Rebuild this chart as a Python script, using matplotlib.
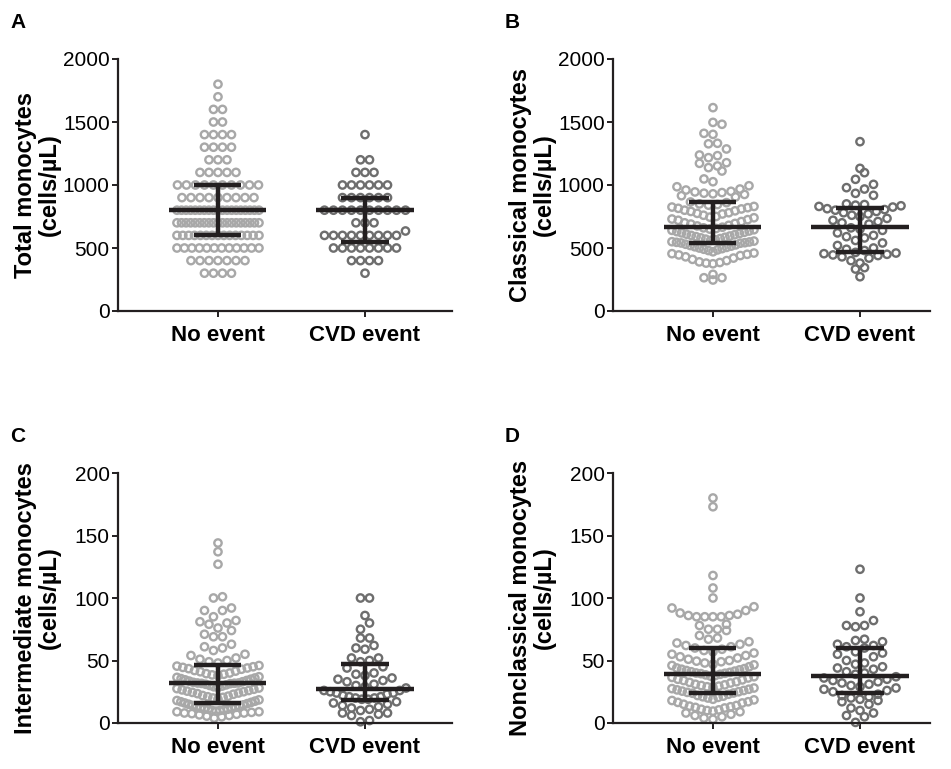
# monocyte subsets, no event vs CVD event (4 panels, scatter with median + IQR)
import numpy as np
import matplotlib.pyplot as plt

plt.rcParams['font.family'] = ['Liberation Sans', 'DejaVu Sans']

groups = ['No event', 'CVD event']
colors = ['#a8a8a8', '#6e6e6e']

# panel A: values sit on 100-steps, so kept as level + count per row
total_levels_no = [300, 400, 500, 600, 700, 800, 900, 1000, 1100, 1200, 1300, 1400, 1500, 1600, 1700, 1800]
total_counts_no = [4, 7, 12, 15, 19, 19, 9, 10, 5, 3, 4, 4, 2, 2, 1, 1]
total_levels_cvd = [300, 400, 500, 600, 635, 700, 800, 900, 1000, 1100, 1200, 1400]
total_counts_cvd = [1, 4, 8, 9, 1, 3, 10, 6, 6, 3, 2, 1]
total_no = np.repeat(total_levels_no, total_counts_no)
total_cvd = np.repeat(total_levels_cvd, total_counts_cvd)

classical_no = [1614, 1497, 1482, 1410, 1402, 1331, 1327, 1286, 1233, 1238, 1217, 1177, 1151, 1111,
                1138, 1172, 1048, 1026, 994, 968, 986, 960, 950, 945, 940, 935, 930, 925, 915, 905,
                865, 860, 850, 845, 840, 830, 825, 820, 815, 810, 800, 795, 790, 780, 775, 770, 760,
                750, 745, 740, 730, 725, 720, 710, 700, 695, 690, 680, 675,
                665, 660, 655, 650, 645, 640, 635, 630, 625, 620, 615, 610, 605, 600, 595, 590, 585,
                580, 575, 570, 565, 560, 555, 550, 548, 545, 542, 540, 538,
                530, 525, 520, 515, 510, 505, 500, 495, 490, 485, 480, 470, 460, 455, 450, 445, 440,
                430, 420, 410, 400, 390, 385, 380, 375, 291, 264, 264, 246]
classical_cvd = [1344, 1132, 1098, 1045, 1005, 979, 968, 934, 918, 850, 845, 840, 835, 830, 825,
                 812, 805, 800, 790, 780, 770, 760, 750, 735, 720, 710, 700, 690,
                 660, 650, 640, 620, 600, 590, 580, 560, 540, 520, 500, 490, 480,
                 465, 460, 455, 450, 445, 440, 430, 420, 400, 380, 344, 333, 272]

intermediate_no = [144, 137, 127, 101, 100, 92, 90, 90, 85, 82, 81, 80, 79, 76, 74, 71, 69, 69, 63, 61,
                   60, 58, 55, 54, 52, 51, 50, 49, 48,
                   46, 45.5, 45, 44.5, 44, 43.5, 43, 42, 41.5, 41, 40, 39.5, 39, 38.5, 38, 37, 36.5,
                   36, 35.5, 35, 34.5, 34, 33.5, 33, 32.5, 32, 32, 31.8, 31.7,
                   31.5, 31, 30.5, 30, 29.5, 29, 28.5, 28, 27.5, 27, 26.5, 26, 25.5, 25, 24.5, 24, 23.5,
                   23, 22, 21.5, 21, 20.5, 20, 19, 18.5, 18, 17.5, 17, 16.5,
                   16, 15.5, 15, 14.5, 14, 13.5, 13, 12.5, 12, 12, 11.5, 11, 11, 10.5, 10, 10, 9.5, 9,
                   9, 8.5, 8, 8, 7.5, 7, 6.5, 6, 5.5, 5, 4]
intermediate_cvd = [100, 100, 86, 80, 75, 68, 68, 62, 60, 59, 52, 52, 50, 49,
                    45, 44, 40, 39, 38, 36, 35, 34, 33, 31, 30, 29, 28,
                    26, 26, 25, 24, 24, 23, 22, 21, 21, 20, 20, 19, 19,
                    17, 16, 15, 14, 13, 12, 11, 10, 8, 8, 7, 6, 2, 1]

nonclassical_no = [180, 173, 118, 108, 100, 93, 92, 90, 88, 86, 85, 85, 85, 85, 86, 87, 79, 78, 75, 75,
                   74, 70, 68, 67, 65, 64, 63, 62, 61,
                   60, 59, 58, 57, 56, 55, 54, 53, 52, 51, 50, 49.5, 49, 48, 47, 46.5, 46, 45, 44,
                   43.5, 43, 42.5, 42, 41.5, 41, 40.5, 40, 39.8, 39.5,
                   39, 38.5, 38, 37.5, 37, 36.5, 36, 35, 34.5, 34, 33, 32.5, 32, 31, 30.5, 30, 29.5,
                   29, 28.5, 28, 27.5, 27, 26.5, 26, 25.5, 25, 24.5, 24, 23.8,
                   23, 22, 21.5, 21, 20.5, 20, 19, 18.5, 18, 17, 16.5, 16, 15, 14, 13.5, 13, 12.5,
                   12, 11, 10.5, 10, 9.5, 9, 8, 7, 6, 5, 4, 3]
nonclassical_cvd = [123, 100, 89, 82, 78, 78, 77, 67, 66, 65, 63, 62, 61, 60,
                    57, 56, 55, 53, 50, 48, 47, 45, 44, 43, 41, 40, 39,
                    37, 36, 35, 34, 33, 32, 31, 30, 29, 28, 27, 26, 25,
                    23, 22, 21, 20, 19, 18, 17, 15, 12, 10, 8, 6, 5, 0.5]

# median, Q1, Q3 as drawn in the figure
total_stats = [[800, 600, 1000], [800, 550, 900]]
classical_stats = [[669, 537, 868], [669, 471, 815]]
intermediate_stats = [[31.7, 16.3, 46.4], [27, 18.4, 47.2]]
nonclassical_stats = [[39.2, 23.7, 60.3], [37.9, 23.7, 59.7]]

panels = [
    ('A', 'Total monocytes', [total_no, total_cvd], total_stats, 2000, (118, 59, 452, 311)),
    ('B', 'Classical monocytes', [classical_no, classical_cvd], classical_stats, 2000, (613, 59, 930, 311)),
    ('C', 'Intermediate monocytes', [intermediate_no, intermediate_cvd], intermediate_stats, 200, (118, 473, 452, 723)),
    ('D', 'Nonclassical monocytes', [nonclassical_no, nonclassical_cvd], nonclassical_stats, 200, (613, 473, 930, 723)),
]

W, H = 951, 769
fig = plt.figure(figsize=(W / 100, H / 100), dpi=100)
ink = '#231f20'


def row_offsets(vals, px_per_unit, h=11.7, d=9.0, wmax=41.0):
    # prism-like scatter: close values share a row, lowest in the middle,
    # rows that are too long get squeezed so the dots overlap
    ys = np.asarray(vals, float) * px_per_unit
    bins = np.floor(ys / h).astype(int)
    xs = np.zeros(len(ys))
    for bn in np.unique(bins):
        idx = np.where(bins == bn)[0]
        idx = idx[np.argsort(ys[idx], kind='stable')]
        n = len(idx)
        step = d if n < 2 else min(d, 2 * wmax / (n - 1))
        slots = (np.arange(n) - (n - 1) / 2) * step
        slots = slots[np.argsort(np.abs(slots) + 1e-6 * slots, kind='stable')]
        xs[idx] = slots
    return xs


for letter, name, data, stats, ymax, (l, t, r, b) in panels:
    ax = fig.add_axes([l / W, 1 - b / H, (r - l) / W, (b - t) / H])
    ax.set_xlim(-0.68, 1 + (r - l - 100 - 147) / 147)
    ax.set_ylim(0, ymax)
    px_x = 147.0
    px_y = (b - t) / ymax
    for k, vals in enumerate(data):
        off = row_offsets(vals, px_y)
        ax.scatter(k + off / px_x, vals, s=28, facecolors='none', edgecolors=colors[k],
                   linewidths=1.7, clip_on=False, zorder=2)
        med, q1, q3 = stats[k]
        ax.hlines(med, k - 0.33, k + 0.33, color=ink, lw=3.2, zorder=3)
        ax.hlines([q1, q3], k - 0.16, k + 0.16, color=ink, lw=3.2, zorder=3)
        ax.vlines(k, q1, q3, color=ink, lw=3.2, zorder=3)

    ax.set_yticks(np.linspace(0, ymax, 5))
    ax.set_yticklabels([str(int(v)) for v in np.linspace(0, ymax, 5)])
    ax.set_xticks([0, 1])
    ax.set_xticklabels(groups, fontweight='bold', fontsize=16)
    ax.tick_params(axis='y', labelsize=15, length=4, width=1.4, color=ink, pad=2)
    ax.tick_params(axis='x', length=4, width=1.4, color=ink, pad=6)
    for s in ['top', 'right']:
        ax.spines[s].set_visible(False)
    for s in ['left', 'bottom']:
        ax.spines[s].set_linewidth(1.6)
        ax.spines[s].set_color(ink)

    fig.text((l - 81) / W, 1 - (t + b) / 2 / H, name + '\n(cells/\u00b5L)', rotation=90,
             ha='center', va='center', fontsize=17, fontweight='bold', multialignment='center',
             linespacing=1.05)
    fig.text((l - 108) / W, 1 - (t - 37) / H, letter, fontsize=15, fontweight='bold',
             ha='left', va='center')

plt.savefig('out.png', dpi=100)
